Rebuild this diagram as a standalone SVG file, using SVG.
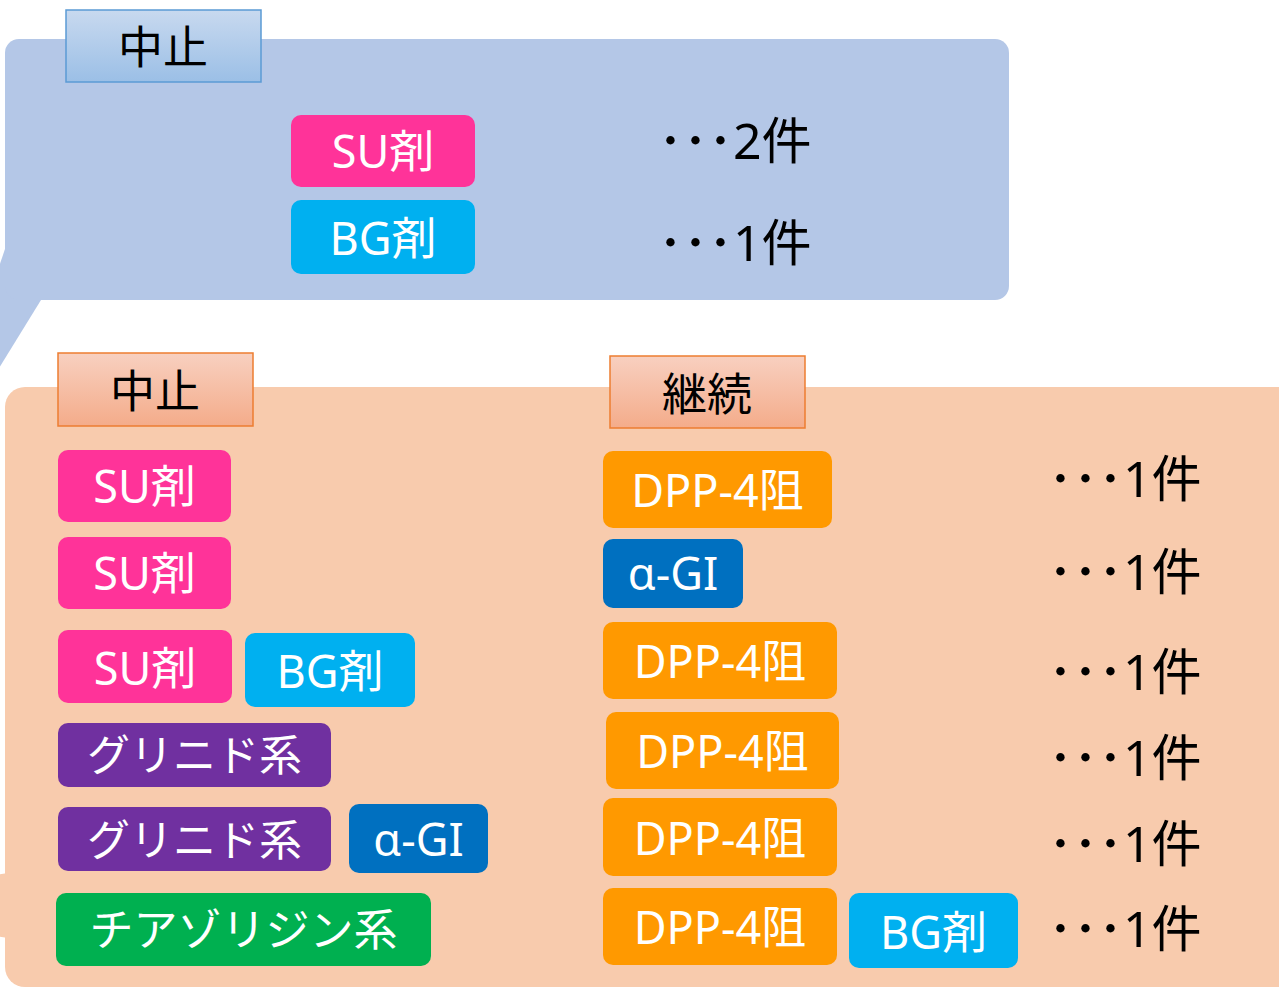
<svg xmlns="http://www.w3.org/2000/svg" width="1279" height="989" viewBox="0 0 1279 989">
<defs>
<linearGradient id="gBlue" x1="0" y1="0" x2="0" y2="1"><stop offset="0" stop-color="#C8D9EF"/><stop offset="1" stop-color="#9BBFE6"/></linearGradient>
<linearGradient id="gPeach" x1="0" y1="0" x2="0" y2="1"><stop offset="0" stop-color="#F8D0C0"/><stop offset="1" stop-color="#F4AC8A"/></linearGradient>
<style>
text{font-family:"Noto Sans","Noto Sans CJK JP",sans-serif;}
.pt{fill:#fff;font-size:45px;text-anchor:middle;}
.lb{fill:#000;font-size:45px;text-anchor:middle;}
.ct{fill:#000;font-size:50px;}
.su{fill:#FF3399;}
.bg{fill:#00B0F0;}
.dpp{fill:#FF9900;}
.ag{fill:#0070C0;}
.gr{fill:#7030A0;}
.tz{fill:#00B050;}
</style>
</defs>
<rect width="1279" height="989" fill="#fff"/>
<g id="callout-top">
<polygon points="6,246 -76,490 41,300" fill="#B4C7E7"/>
<rect x="5" y="39" width="1004" height="261" rx="14" fill="#B4C7E7"/>
</g>
<g id="callout-bottom">
<polygon points="8,873 -200,905 8,938" fill="#F8CBAD"/>
<rect x="5" y="387" width="1300" height="600" rx="20" fill="#F8CBAD"/>
</g>
<g id="label-top-stop">
<rect x="66" y="10" width="195" height="72" fill="url(#gBlue)" stroke="#5B9BD5" stroke-width="1.5"/>
<text class="lb" x="163" y="64">中止</text>
</g>
<g id="top-su"><rect class="su" x="291" y="115" width="184" height="72" rx="10"/><text class="pt" x="383" y="168">SU剤</text></g>
<g id="top-bg"><rect class="bg" x="291" y="200" width="184" height="74" rx="10"/><text class="pt" x="383" y="255">BG剤</text></g>
<g id="top-count1"><text class="ct" x="658" y="159">･･･2件</text></g>
<g id="top-count2"><text class="ct" x="658" y="261">･･･1件</text></g>
<g id="label-stop">
<rect x="58" y="353" width="195" height="73" fill="url(#gPeach)" stroke="#ED7D31" stroke-width="1.5"/>
<text class="lb" x="155" y="408">中止</text>
</g>
<g id="label-continue">
<rect x="610" y="356" width="195" height="72" fill="url(#gPeach)" stroke="#ED7D31" stroke-width="1.5"/>
<text class="lb" x="707" y="411">継続</text>
</g>
<g id="r1-su"><rect class="su" x="58" y="450" width="173" height="72" rx="10"/><text class="pt" x="144.5" y="503">SU剤</text></g>
<g id="r2-su"><rect class="su" x="58" y="537" width="173" height="72" rx="10"/><text class="pt" x="144.5" y="590">SU剤</text></g>
<g id="r3-su"><rect class="su" x="58" y="630" width="174" height="73" rx="10"/><text class="pt" x="145" y="685">SU剤</text></g>
<g id="r3-bg"><rect class="bg" x="245" y="633" width="170" height="74" rx="10"/><text class="pt" x="330" y="688">BG剤</text></g>
<g id="r4-gl"><rect class="gr" x="58" y="723" width="273" height="64" rx="10"/><text class="pt" x="194.5" y="771" style="font-size:43px">グリニド系</text></g>
<g id="r5-gl"><rect class="gr" x="58" y="807" width="273" height="64" rx="10"/><text class="pt" x="194.5" y="856" style="font-size:43px">グリニド系</text></g>
<g id="r5-ag"><rect class="ag" x="349" y="804" width="139" height="69" rx="10"/><text class="pt" x="418.5" y="856">α-GI</text></g>
<g id="r6-tz"><rect class="tz" x="56" y="893" width="375" height="73" rx="10"/><text class="pt" x="243.5" y="946" style="font-size:44px">チアゾリジン系</text></g>
<g id="c1-dpp"><rect class="dpp" x="603" y="451" width="229" height="77" rx="10"/><text class="pt" x="717.5" y="507">DPP-4阻</text></g>
<g id="c2-ag"><rect class="ag" x="603" y="539" width="140" height="69" rx="10"/><text class="pt" x="673" y="590">α-GI</text></g>
<g id="c3-dpp"><rect class="dpp" x="603" y="622" width="234" height="77" rx="10"/><text class="pt" x="720" y="678">DPP-4阻</text></g>
<g id="c4-dpp"><rect class="dpp" x="606" y="712" width="233" height="77" rx="10"/><text class="pt" x="722.5" y="768">DPP-4阻</text></g>
<g id="c5-dpp"><rect class="dpp" x="603" y="798" width="234" height="78" rx="10"/><text class="pt" x="720" y="855">DPP-4阻</text></g>
<g id="c6-dpp"><rect class="dpp" x="603" y="888" width="234" height="77" rx="10"/><text class="pt" x="720" y="944">DPP-4阻</text></g>
<g id="c6-bg"><rect class="bg" x="849" y="893" width="169" height="75" rx="10"/><text class="pt" x="933.5" y="949">BG剤</text></g>
<g id="counts">
<text class="ct" x="1048" y="497">･･･1件</text>
<text class="ct" x="1048" y="590">･･･1件</text>
<text class="ct" x="1048" y="690">･･･1件</text>
<text class="ct" x="1048" y="776">･･･1件</text>
<text class="ct" x="1048" y="862">･･･1件</text>
<text class="ct" x="1048" y="947">･･･1件</text>
</g>
<g id="connectors"/>
</svg>
